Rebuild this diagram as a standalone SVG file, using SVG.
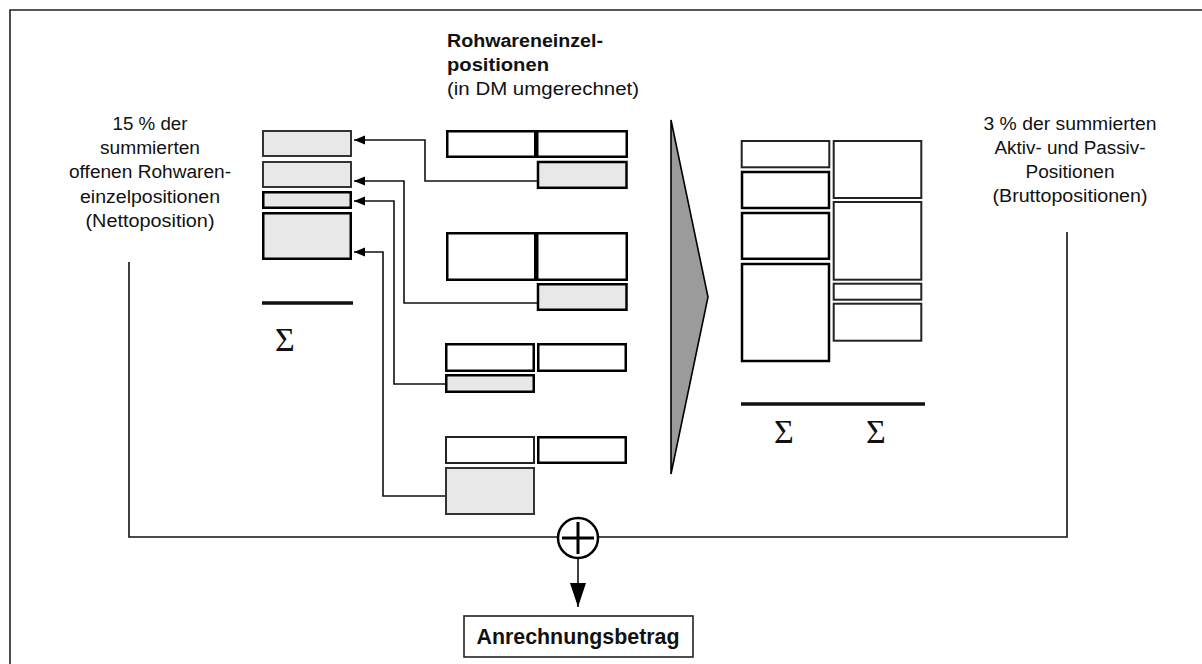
<svg xmlns="http://www.w3.org/2000/svg" width="1202" height="664" viewBox="0 0 1202 664">
  <defs>
    <style>
      .txt { font-family: "Liberation Sans", Arial, sans-serif; font-size: 18px; fill: #111; }
      .bold { font-weight: bold; }
      .sig { font-family: "Liberation Serif", "Times New Roman", serif; font-size: 34px; fill: #111; }
      .box { fill: #ffffff; stroke: #000; stroke-width: 2.5; }
      .gbox { fill: #e8e8e8; stroke: #000; stroke-width: 2.5; }
      .gthin { fill: #e8e8e8; stroke: #333; stroke-width: 2; }
      .wthin { fill: #ffffff; stroke: #222; stroke-width: 2; }
      .conn { fill: none; stroke: #111; stroke-width: 1.6; }
      .sum { stroke: #111; stroke-width: 3.5; }
    </style>
    <marker id="arr" markerUnits="userSpaceOnUse" markerWidth="12" markerHeight="10" refX="11" refY="4.5" orient="auto">
      <path d="M0,0 L11,4.5 L0,9 z" fill="#000"/>
    </marker>
    <marker id="arrBig" markerUnits="userSpaceOnUse" markerWidth="26" markerHeight="18" refX="24" refY="8" orient="auto">
      <path d="M0,0 L24,8 L0,16 z" fill="#000"/>
    </marker>
  </defs>

  <rect width="1202" height="664" fill="#ffffff"/>

  <!-- frame -->
  <path d="M10,664 V10 H1202" fill="none" stroke="#222" stroke-width="1.6"/>

  <!-- heading -->
  <g id="heading">
    <text class="txt bold" x="447" y="47" textLength="156" lengthAdjust="spacingAndGlyphs">Rohwareneinzel-</text>
    <text class="txt bold" x="447" y="71" textLength="102" lengthAdjust="spacingAndGlyphs">positionen</text>
    <text class="txt" x="447" y="95" textLength="192" lengthAdjust="spacingAndGlyphs">(in DM umgerechnet)</text>
  </g>

  <!-- left label -->
  <g id="netto-label" text-anchor="middle">
    <text class="txt" x="150" y="130" textLength="75" lengthAdjust="spacingAndGlyphs">15 % der</text>
    <text class="txt" x="150" y="154" textLength="100" lengthAdjust="spacingAndGlyphs">summierten</text>
    <text class="txt" x="150" y="178" textLength="162" lengthAdjust="spacingAndGlyphs">offenen Rohwaren-</text>
    <text class="txt" x="150" y="203" textLength="140" lengthAdjust="spacingAndGlyphs">einzelpositionen</text>
    <text class="txt" x="150" y="227" textLength="129" lengthAdjust="spacingAndGlyphs">(Nettoposition)</text>
  </g>

  <!-- right label -->
  <g id="brutto-label" text-anchor="middle">
    <text class="txt" x="1070" y="130" textLength="173" lengthAdjust="spacingAndGlyphs">3 % der summierten</text>
    <text class="txt" x="1070" y="154" textLength="151" lengthAdjust="spacingAndGlyphs">Aktiv- und Passiv-</text>
    <text class="txt" x="1070" y="178" textLength="89" lengthAdjust="spacingAndGlyphs">Positionen</text>
    <text class="txt" x="1070" y="202" textLength="155" lengthAdjust="spacingAndGlyphs">(Bruttopositionen)</text>
  </g>

  <!-- net position stack -->
  <g id="netto-stack">
    <rect class="gthin" x="263" y="131" width="88" height="25"/>
    <rect class="gthin" x="263" y="162" width="88" height="25"/>
    <rect class="gbox" x="263.25" y="192.25" width="87.5" height="15.5"/>
    <rect class="gbox" x="263.25" y="213.25" width="87.5" height="45.5"/>
    <line class="sum" x1="262" y1="303" x2="353" y2="303"/>
    <text class="sig" x="285" y="351" text-anchor="middle">Σ</text>
  </g>

  <!-- single raw material positions -->
  <g id="pos1">
    <rect class="box" x="447.25" y="131.25" width="88" height="25.5"/>
    <rect class="box" x="537.25" y="131.25" width="89.5" height="25.5"/>
    <rect class="gbox" x="538" y="162" width="88.5" height="25.8"/>
  </g>
  <g id="pos2">
    <rect class="box" x="447.25" y="233.25" width="88" height="46.5"/>
    <rect class="box" x="537.25" y="233.25" width="89.5" height="46.5"/>
    <rect class="gbox" x="538" y="284.25" width="88.5" height="25.5"/>
  </g>
  <g id="pos3">
    <rect class="box" x="446.25" y="344.25" width="87.5" height="26.5"/>
    <rect class="box" x="538.25" y="344.25" width="87.5" height="26.5"/>
    <rect class="gbox" x="446.25" y="375.25" width="87.5" height="16.5"/>
  </g>
  <g id="pos4">
    <rect class="wthin" x="446" y="437" width="88" height="26" stroke="#555"/>
    <rect class="box" x="538.25" y="437.25" width="87.5" height="25.5"/>
    <rect class="gthin" x="446" y="468" width="88" height="46" stroke="#555"/>
  </g>

  <!-- transformation wedge -->
  <g id="wedge">
    <polygon points="671,120 708,297 671,474" fill="#9b9b9b" stroke="#000" stroke-width="1.6" stroke-linejoin="miter"/>
  </g>

  <!-- gross position columns -->
  <g id="brutto-stack">
    <rect class="wthin" x="741.7" y="141" width="87.6" height="26.3" stroke="#444"/>
    <rect class="box" x="742" y="172" width="87" height="36"/>
    <rect class="box" x="742" y="213" width="87" height="45.8"/>
    <rect class="box" x="742" y="264" width="87" height="97"/>
    <rect class="wthin" x="833.7" y="141" width="87.6" height="57"/>
    <rect class="wthin" x="833.7" y="202" width="87.6" height="77.7"/>
    <rect class="wthin" x="833.7" y="283.7" width="87.6" height="16"/>
    <rect class="wthin" x="833.7" y="303.7" width="87.6" height="37"/>
    <line class="sum" x1="741" y1="404" x2="925" y2="404"/>
    <text class="sig" x="784" y="443" text-anchor="middle">Σ</text>
    <text class="sig" x="876" y="443" text-anchor="middle">Σ</text>
  </g>

  <!-- connectors -->
  <g id="connectors">
    <path class="conn" d="M537,181 H425 V140 H354" marker-end="url(#arr)"/>
    <path class="conn" d="M537,303 H404 V181 H354" marker-end="url(#arr)"/>
    <path class="conn" d="M445,384 H394 V201 H354" marker-end="url(#arr)"/>
    <path class="conn" d="M445,496 H383 V252 H354" marker-end="url(#arr)"/>
    <path class="conn" d="M129,262 V537 H1067 V232"/>
    <line class="conn" x1="578" y1="558" x2="578" y2="607" marker-end="url(#arrBig)"/>
  </g>

  <!-- summation node -->
  <g id="plus">
    <circle cx="578" cy="538" r="20" fill="#ffffff" stroke="#000" stroke-width="2.5"/>
    <path d="M562,538 H594 M578,522 V554" stroke="#000" stroke-width="3"/>
  </g>

  <!-- result -->
  <g id="result">
    <rect x="464" y="616" width="229" height="41" fill="#ffffff" stroke="#222" stroke-width="1.6"/>
    <text class="txt bold" x="578" y="644" style="font-size:21.5px" text-anchor="middle" textLength="203" lengthAdjust="spacingAndGlyphs">Anrechnungsbetrag</text>
  </g>
</svg>
